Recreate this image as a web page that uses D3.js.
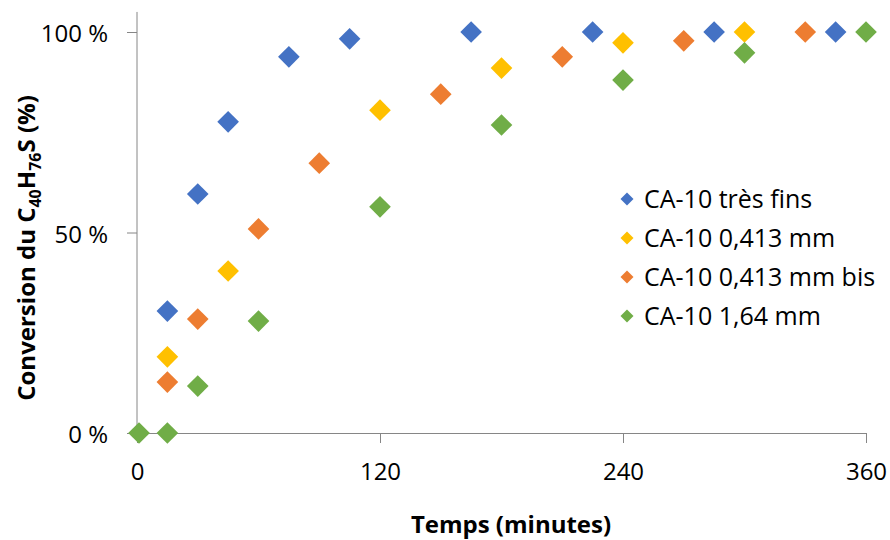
<!DOCTYPE html>
<html>
<head>
<meta charset="utf-8">
<script src="https://cdn.jsdelivr.net/npm/d3@7"></script>
<style>
  html, body { margin: 0; padding: 0; background: #fff; }
  svg { display: block; font-family: "Open Sans", sans-serif; }
</style>
</head>
<body>
<svg id="chart" width="890" height="540"></svg>
<script>
// ---- data ----
const seriesNames = ["CA-10 très fins", "CA-10 0,413 mm", "CA-10 0,413 mm bis", "CA-10 1,64 mm"];
const seriesColors = ["#4472C4", "#FFC000", "#ED7D31", "#70AD47"];

const tresFinsTime = [15, 30, 45, 75, 105, 165, 225, 285, 345];
const tresFinsConv = [30.4, 59.6, 77.6, 93.8, 98.3, 100, 100, 100, 100];

const mm413Time = [15, 45, 120, 180, 240, 300];
const mm413Conv = [19.0, 40.4, 80.5, 91.0, 97.3, 100];

const mm413BisTime = [15, 30, 60, 90, 150, 210, 270, 330];
const mm413BisConv = [12.7, 28.4, 50.9, 67.3, 84.5, 93.8, 97.8, 100];

const mm164Time = [1, 15, 30, 60, 120, 180, 240, 300, 360];
const mm164Conv = [0, 0, 11.7, 27.9, 56.4, 76.8, 88.0, 94.8, 100];

const xTicks = [0, 120, 240, 360];
const yTicks = [0, 50, 100];

const series = [
  { name: seriesNames[0], color: seriesColors[0], t: tresFinsTime, v: tresFinsConv },
  { name: seriesNames[1], color: seriesColors[1], t: mm413Time, v: mm413Conv },
  { name: seriesNames[2], color: seriesColors[2], t: mm413BisTime, v: mm413BisConv },
  { name: seriesNames[3], color: seriesColors[3], t: mm164Time, v: mm164Conv }
];

// ---- layout ----
const svg = d3.select("#chart");
const x = d3.scaleLinear().domain([0, 360]).range([137, 866]);
const y = d3.scaleLinear().domain([0, 100]).range([433, 32]);
const axisColor = "#868686";

// y axis
const yAxisG = svg.append("g").attr("transform", `translate(${x(0)},0)`)
  .call(d3.axisLeft(y).tickValues(yTicks).tickSize(10).tickSizeOuter(0).tickFormat(d => d + " %"));
yAxisG.select(".domain").remove();
yAxisG.append("line").attr("x1", 0).attr("x2", 0).attr("y1", y(0)).attr("y2", y(105))
  .attr("stroke", axisColor).attr("stroke-width", 1);
yAxisG.selectAll(".tick line").attr("stroke", axisColor);
yAxisG.selectAll(".tick text").attr("x", -29).attr("dy", "0.4em")
  .attr("font-size", 24).attr("font-family", "Open Sans").attr("fill", "#000");

// x axis
const xAxisG = svg.append("g").attr("transform", `translate(0,${y(0)})`)
  .call(d3.axisBottom(x).tickValues(xTicks).tickSize(10).tickSizeOuter(0).tickFormat(d3.format("d")));
xAxisG.select(".domain").attr("stroke", axisColor);
xAxisG.selectAll(".tick line").attr("stroke", axisColor);
xAxisG.selectAll(".tick text").attr("y", 47).attr("dy", 0)
  .attr("font-size", 24).attr("font-family", "Open Sans").attr("fill", "#000");

// points
const diamond = d3.symbol().type(d3.symbolSquare).size(235);
series.forEach(s => {
  svg.append("g").selectAll("path").data(s.t.map((t, i) => [t, s.v[i]])).join("path")
    .attr("d", diamond)
    .attr("transform", d => `translate(${x(d[0])},${y(d[1])}) rotate(45)`)
    .attr("fill", s.color);
});

// legend
const legendDiamond = d3.symbol().type(d3.symbolSquare).size(85);
const leg = svg.append("g");
series.forEach((s, i) => {
  const cy = 199 + i * 39;
  leg.append("path").attr("d", legendDiamond)
    .attr("transform", `translate(627,${cy}) rotate(45)`).attr("fill", s.color);
  leg.append("text").attr("x", 644).attr("y", cy).attr("dy", "0.36em")
    .attr("font-size", 25).attr("fill", "#000").text(s.name);
});

// x title
svg.append("text").attr("x", 511).attr("y", 533).attr("text-anchor", "middle")
  .attr("font-size", 24).attr("font-weight", "bold").attr("fill", "#000")
  .text("Temps (minutes)");

// y title
const yt = svg.append("text").attr("transform", "translate(35,248) rotate(-90)")
  .attr("text-anchor", "middle").attr("font-size", 24).attr("font-weight", "bold").attr("fill", "#000");
yt.append("tspan").text("Conversion du C");
yt.append("tspan").attr("font-size", 16).attr("dy", 6).text("40");
yt.append("tspan").attr("dy", -6).text("H");
yt.append("tspan").attr("font-size", 16).attr("dy", 6).text("76");
yt.append("tspan").attr("dy", -6).text("S (%)");
</script>
</body>
</html>
